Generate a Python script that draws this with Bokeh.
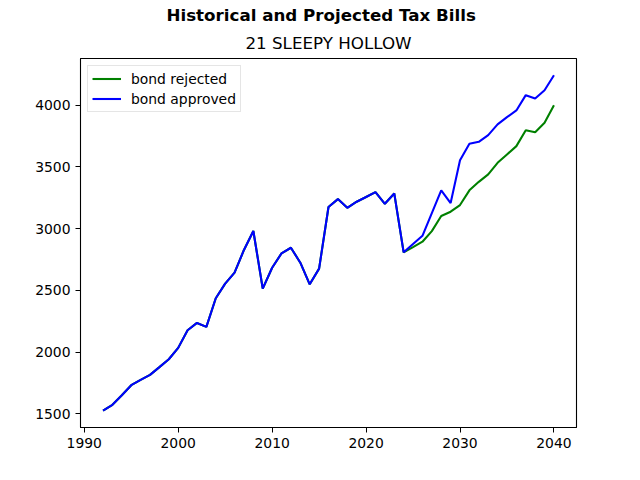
from bokeh.plotting import figure
from bokeh.models import Range1d, SingleIntervalTicker, Title, Legend, LegendItem
from bokeh.embed import file_html
from bokeh.resources import INLINE

hist_years = list(range(1992, 2025))
hist_values = [1525, 1573, 1650, 1732, 1775, 1815, 1878, 1942, 2034, 2177,
               2236, 2204, 2436, 2554, 2643, 2827, 2981, 2514, 2683, 2800,
               2845, 2724, 2549, 2676, 3175, 3239, 3169, 3218, 3256, 3296,
               3201, 3285, 2808]
proj_years = list(range(2025, 2041))
approved_proj = [2875, 2942, 3125, 3310, 3207, 3553, 3687, 3703, 3757, 3844,
                 3903, 3957, 4081, 4054, 4121, 4242]
rejected_proj = [2850, 2894, 2980, 3102, 3137, 3191, 3310, 3379, 3439, 3533,
                 3601, 3668, 3797, 3781, 3857, 4000]

years = hist_years + proj_years
approved = hist_values + approved_proj
rejected = hist_values + rejected_proj

suptitle = "Historical and Projected Tax Bills"
subtitle = "21 SLEEPY HOLLOW"
labels = ["bond rejected", "bond approved"]

FONT = "DejaVu Sans"

xmin, xmax = min(years), max(years)
ymin, ymax = min(approved + rejected), max(approved + rejected)
xpad = (xmax - xmin) * 0.05
ypad = (ymax - ymin) * 0.05

p = figure(width=640, height=480, output_backend="svg", toolbar_location=None,
           x_range=Range1d(xmin - xpad, xmax + xpad),
           y_range=Range1d(ymin - ypad, ymax + ypad),
           min_border_left=80, min_border_right=64, min_border_top=58,
           min_border_bottom=53)
p.background_fill_color = "white"
p.border_fill_color = "white"
p.outline_line_color = "black"
p.outline_line_width = 1.1
p.xgrid.visible = False
p.ygrid.visible = False

p.xaxis.ticker = SingleIntervalTicker(interval=10)
p.yaxis.ticker = SingleIntervalTicker(interval=500)
for ax in (p.xaxis, p.yaxis):
    ax.major_tick_out = 5
    ax.major_tick_in = 0
    ax.minor_tick_out = 0
    ax.minor_tick_in = 0
    ax.axis_line_color = "black"
    ax.major_tick_line_color = "black"
    ax.major_label_text_font = FONT
    ax.major_label_text_font_size = "13.9px"
    ax.major_label_text_color = "black"
    ax.major_label_standoff = 5
p.yaxis.major_label_orientation = "horizontal"

r1 = p.line(years, rejected, line_color="green", line_width=2.08)
r2 = p.line(years, approved, line_color="blue", line_width=2.08)

legend = Legend(items=[LegendItem(label=labels[0], renderers=[r1]),
                       LegendItem(label=labels[1], renderers=[r2])],
                location="top_left", margin=7, padding=4, spacing=3,
                glyph_width=29, glyph_height=17, label_height=17,
                label_standoff=10, label_text_font=FONT,
                label_text_font_size="13.9px", label_text_color="black",
                border_line_color="#cccccc", border_line_width=1,
                background_fill_alpha=0.8)
p.add_layout(legend, "center")

p.add_layout(Title(text=subtitle, align="center", text_font=FONT,
                   text_font_size="16.7px", text_font_style="normal",
                   text_color="black", standoff=12), "above")
p.add_layout(Title(text=suptitle, align="left", offset=86, text_font=FONT,
                   text_font_size="16.7px", text_font_style="bold",
                   text_color="black", standoff=0), "above")

open("out.html", "w").write(file_html(p, INLINE))
